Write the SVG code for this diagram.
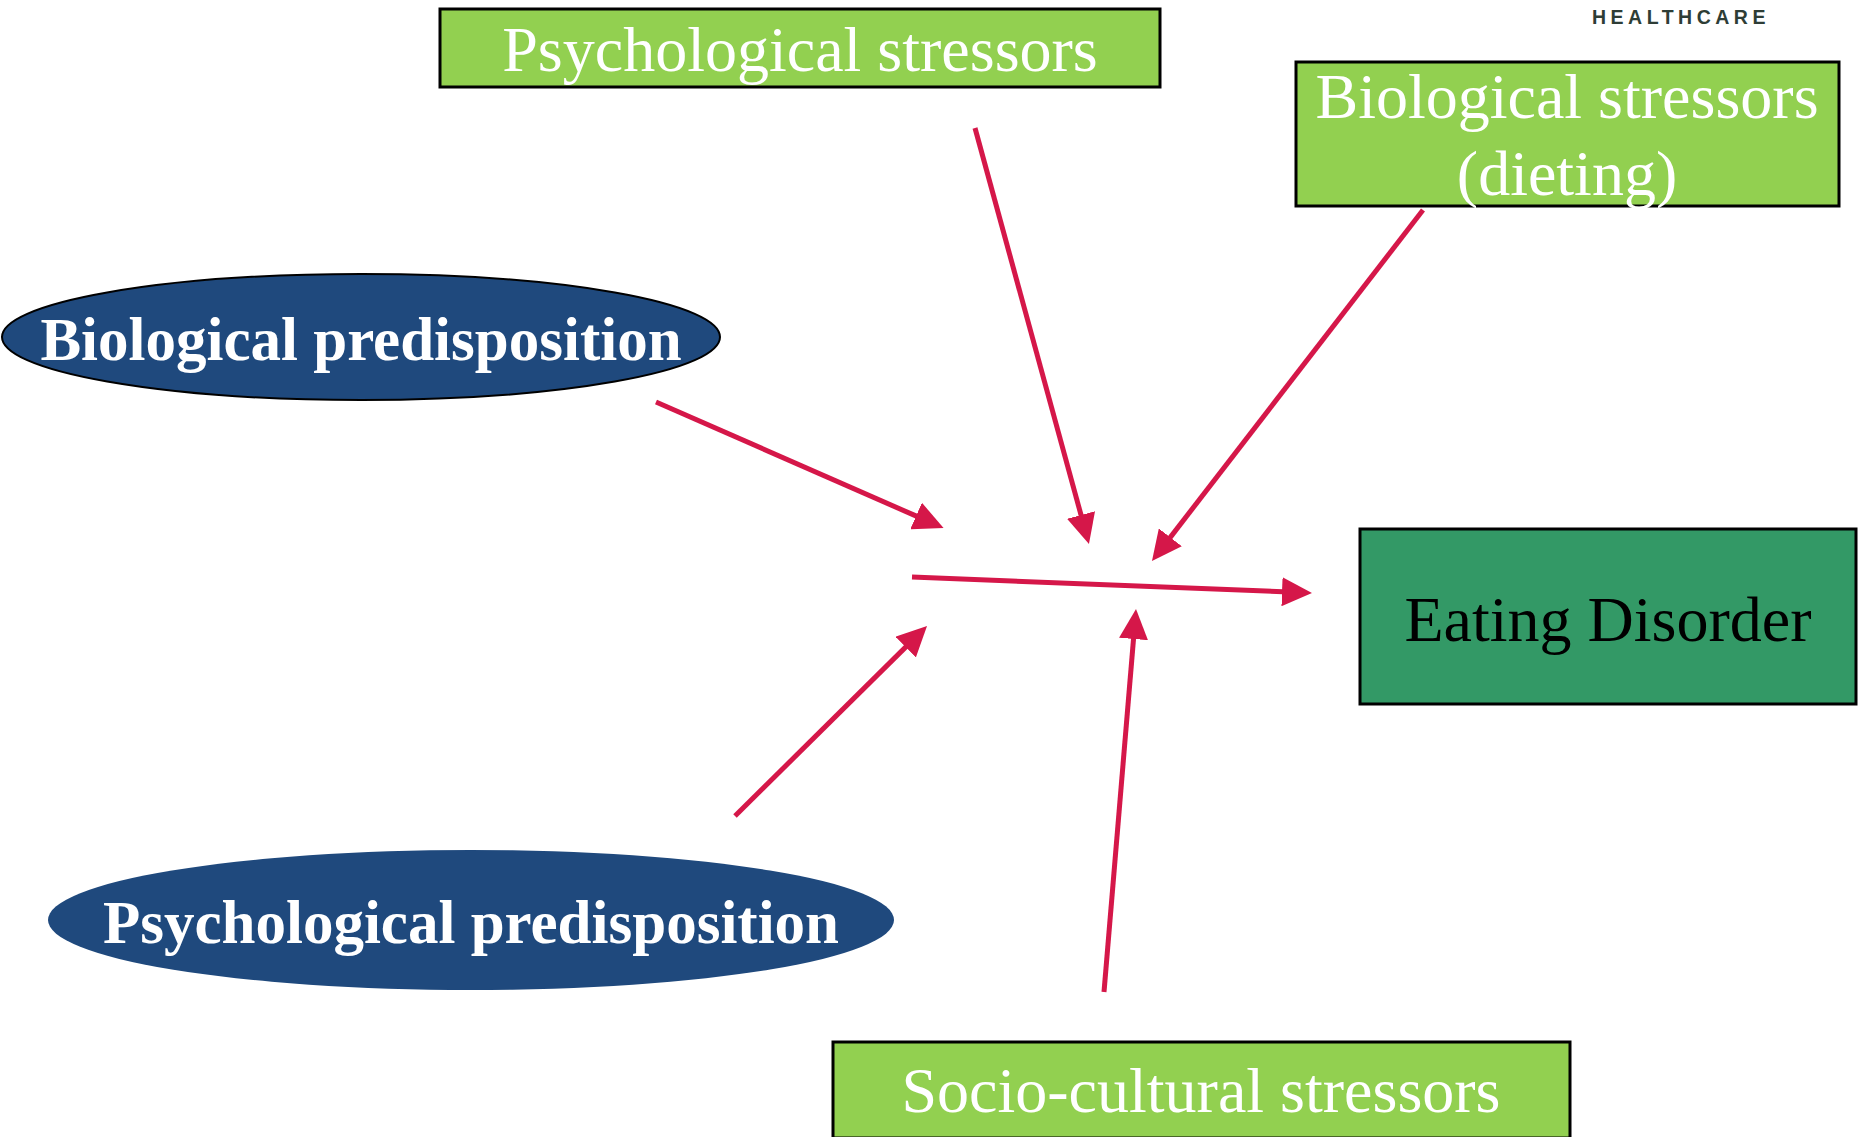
<svg xmlns="http://www.w3.org/2000/svg" width="1863" height="1137" viewBox="0 0 1863 1137">
<style>
.stress{fill:#92D050;stroke:#000;stroke-width:3}
.pre{fill:#1F497D}
.t{font-family:"Liberation Serif","Times New Roman",serif;font-size:64px;fill:#fff;text-anchor:middle}
.tb{font-family:"Liberation Serif","Times New Roman",serif;font-size:61px;font-weight:bold;fill:#fff;text-anchor:middle}
.conn line{stroke:#D51749;stroke-width:5;marker-end:url(#ah)}
</style>
<defs>
<marker id="ah" markerUnits="userSpaceOnUse" markerWidth="30" markerHeight="29" refX="1" refY="14.5" orient="auto">
<path d="M0,0 L30,14.5 L0,29 z" fill="#D51749"/>
</marker>
</defs>
<rect width="1863" height="1137" fill="#fff"/>
<text x="1592" y="24" font-family="Liberation Sans, Arial, sans-serif" font-size="19.5" font-weight="bold" letter-spacing="4.5" fill="#2E3D36">HEALTHCARE</text>
<g id="psych-stressors">
<rect class="stress" x="440" y="9" width="720" height="78"/>
<text class="t" x="800" y="71">Psychological stressors</text>
</g>
<g id="bio-stressors">
<rect class="stress" x="1296" y="62" width="543" height="144"/>
<text class="t" x="1567" y="118">Biological stressors</text>
<text class="t" x="1567" y="195">(dieting)</text>
</g>
<g id="bio-pre">
<ellipse class="pre" cx="361" cy="337" rx="359" ry="63" stroke="#000" stroke-width="2"/>
<text class="tb" x="361" y="360">Biological predisposition</text>
</g>
<g id="psych-pre">
<ellipse class="pre" cx="471" cy="920" rx="423" ry="70"/>
<text class="tb" x="471" y="943">Psychological predisposition</text>
</g>
<g id="eating-disorder">
<rect x="1360" y="529" width="496" height="175" fill="#339966" stroke="#000" stroke-width="3"/>
<text class="t" x="1608" y="641" style="fill:#000">Eating Disorder</text>
</g>
<g id="socio">
<rect class="stress" x="833" y="1042" width="737" height="96"/>
<text class="t" x="1201" y="1112">Socio-cultural stressors</text>
</g>
<g class="conn" id="connectors">
<line x1="656" y1="402" x2="917" y2="516.4"/>
<line x1="975" y1="128" x2="1081.3" y2="516"/>
<line x1="1423" y1="210" x2="1169.7" y2="538.1"/>
<line x1="912" y1="577" x2="1283" y2="591.8"/>
<line x1="735" y1="816" x2="906.4" y2="646.4"/>
<line x1="1104" y1="992" x2="1133.6" y2="638"/>
</g>
</svg>
